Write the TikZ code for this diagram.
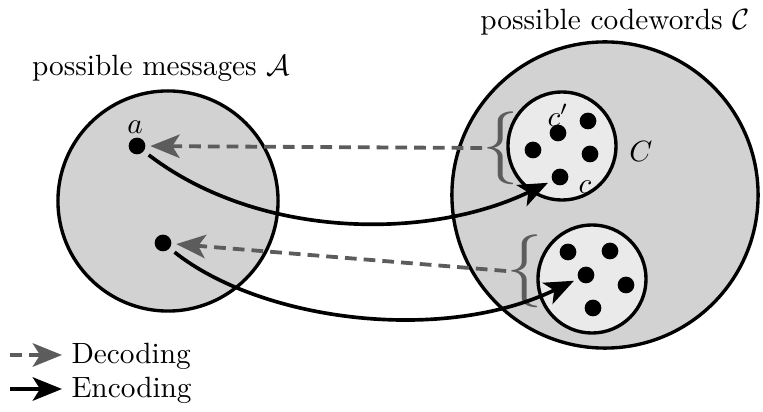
\documentclass[tikz,border=0pt]{standalone}
\usepackage{amsmath,amssymb}
\usetikzlibrary{arrows.meta, positioning}
\definecolor{color_set}{HTML}{D2D2D2}
\definecolor{color_ball}{HTML}{EAEAEA}
\definecolor{color_text}{HTML}{000000}
\definecolor{color_decode}{HTML}{5C5C5C}
\tikzset{
  set_blob/.style={circle, draw=color_text, line width=1.15pt, fill=color_set, inner sep=0pt},
  code_ball/.style={circle, draw=color_text, line width=1.15pt, fill=color_ball, inner sep=0pt, minimum size=1.296cm},
  word_dot/.style={circle, fill=color_text, inner sep=0pt, minimum size=5.7pt},
  figure_label/.style={font=\rmfamily, text=color_text, inner sep=1pt},
  set_brace/.style={font=\Huge, text=color_decode, inner sep=0pt},
  decode_arrow/.style={-{Stealth[length=10pt, width=8pt, inset=2.5pt]}, draw=color_decode, line width=1.3pt, dash pattern=on 4pt off 2.4pt},
  encode_arrow/.style={-{Stealth[length=10pt, width=8pt, inset=2.5pt]}, draw=color_text, line width=1.25pt},
}
\begin{document}
\begin{tikzpicture}[x=0.012cm, y=-0.012cm]
    \useasboundingbox (0,0) rectangle (763,412);
    % the two sets
    \node[set_blob, minimum size=2.64cm] (msgs) at (168,201) {};
    \node[set_blob, minimum size=3.672cm] (words) at (605,195) {};
    \node[figure_label] at (161,68) {possible messages $\mathcal{A}$};
    \node[figure_label] at (615,22) {possible codewords $\mathcal{C}$};
    % decoding balls
    \node[code_ball] (ball1) at (562,146) {};
    \node[code_ball] (ball2) at (592,279) {};
    \node[figure_label] at (641,151) {$C$};
    \node[set_brace] (brace1) at (501,148) {$\{$};
    \node[set_brace] (brace2) at (525,271) {$\{$};
    % messages
    \node[word_dot] (a) at (137,146) {};
    \node[word_dot] (a2) at (163,243) {};
    \node[figure_label] at (135,127) {$a$};
    % codewords in the first ball
    \node[word_dot] (c1) at (558,133) {};
    \node[word_dot] (c2) at (588,121) {};
    \node[word_dot] (c3) at (533,150) {};
    \node[word_dot] (c4) at (590,154) {};
    \node[word_dot] (c5) at (560,177) {};
    \node[figure_label] at (558,115) {$c'$};
    \node[figure_label] at (585,187) {$c$};
    % codewords in the second ball
    \node[word_dot] (d1) at (568,252) {};
    \node[word_dot] (d2) at (610,251) {};
    \node[word_dot] (d3) at (586,275) {};
    \node[word_dot] (d4) at (626,285) {};
    \node[word_dot] (d5) at (593,308) {};
    % decoding
    \draw[decode_arrow, shorten >=1.5pt] (brace1.west) -- (a);
    \draw[decode_arrow, shorten >=1.5pt] (brace2.west) -- (a2);
    % encoding
    \draw[encode_arrow, shorten <=2pt, shorten >=1.5pt] (a) .. controls (260,240) and (430,240) .. (c5);
    \draw[encode_arrow, shorten <=2pt, shorten >=1.5pt] (a2) .. controls (260,320) and (440,345) .. (d3);
    % legend
    \coordinate (dec_from) at (10,355);
    \coordinate (dec_to) at (62,355);
    \coordinate (enc_from) at (10,389);
    \coordinate (enc_to) at (62,389);
    \draw[decode_arrow] (dec_from) -- (dec_to);
    \draw[encode_arrow] (enc_from) -- (enc_to);
    \node[figure_label, anchor=west] (dec_text) at (68,356) {Decoding};
    \node[figure_label, anchor=west] (enc_text) at (68,390) {Encoding};
\end{tikzpicture}
\end{document}
